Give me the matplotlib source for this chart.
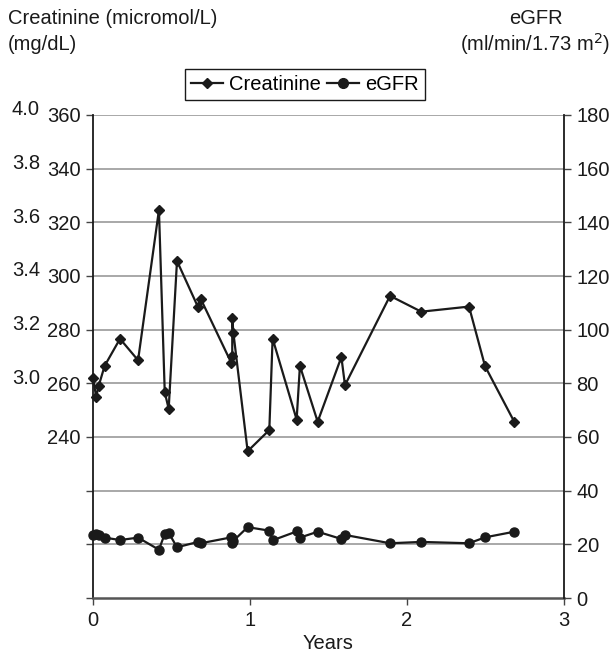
import matplotlib
matplotlib.use("Agg")
import matplotlib.pyplot as plt
from matplotlib.lines import Line2D

plt.rcParams['font.family'] = ['Liberation Sans', 'DejaVu Sans']
plt.rcParams['font.size'] = 14.5

# Follow-up time (years) shared by both series
years = [0.000, 0.020, 0.036, 0.074, 0.172, 0.287, 0.420, 0.457, 0.482, 0.535,
         0.669, 0.686, 0.881, 0.887, 0.887, 0.894, 0.985, 1.123, 1.144, 1.297,
         1.318, 1.431, 1.582, 1.605, 1.892, 2.091, 2.395, 2.497, 2.683]

# Serum creatinine (micromol/L)
creatinine = [262, 255, 259, 266.5, 276.6, 268.6, 324.6, 256.7, 250.5, 305.6,
              288.4, 291.5, 267.6, 270.2, 284.5, 278.9, 234.7, 242.6, 276.7, 246.5,
              266.5, 245.7, 269.8, 259.3, 292.6, 286.7, 288.6, 266.4, 245.7]

# eGFR (ml/min/1.73 m2)
egfr = [23.5, 24.0, 23.4, 22.5, 21.6, 22.5, 18.0, 23.9, 24.3, 18.9,
        20.9, 20.4, 22.6, 22.2, 20.6, 21.3, 26.4, 25.1, 21.5, 24.8,
        22.5, 24.7, 22.0, 23.5, 20.4, 20.9, 20.4, 22.6, 24.7]

# Axis ticks
x_ticks = [0, 1, 2, 3]
umol_ticks = [180, 200, 220, 240, 260, 280, 300, 320, 340, 360]
umol_labels = ["", "", "", "240", "260", "280", "300", "320", "340", "360"]
mg_positions = [260, 280, 300, 320, 340, 360]
mg_labels = ["3.0", "3.2", "3.4", "3.6", "3.8", "4.0"]
egfr_ticks = [0, 20, 40, 60, 80, 100, 120, 140, 160, 180]

W, H = 616, 656
fig = plt.figure(figsize=(W / 100, H / 100), dpi=100)
x0, x1, y0, y1 = 93, 564, 115, 598
ax = fig.add_axes([x0 / W, 1 - y1 / H, (x1 - x0) / W, (y1 - y0) / H])
ax2 = ax.twinx()

ax.set_xlim(0, 3)
ax.set_ylim(180, 360)
ax2.set_ylim(0, 180)

grid_c = "#9a9a9a"
ink = "#1a1a1a"
for t in umol_ticks[1:]:
    ax.axhline(t, color=grid_c, lw=1.2, zorder=0)

ax.plot(years, creatinine, color=ink, lw=1.6, marker='D', ms=5.5,
        mfc=ink, mec=ink, zorder=3, clip_on=False)
ax2.plot(years, egfr, color=ink, lw=1.6, marker='o', ms=6.5,
         mfc=ink, mec=ink, zorder=3, clip_on=False)

ax.set_xticks(x_ticks)
ax.set_xticklabels([str(v) for v in x_ticks])
ax.set_yticks(umol_ticks)
ax.set_yticklabels(umol_labels)
ax2.set_yticks(egfr_ticks)
ax2.set_yticklabels([str(v) for v in egfr_ticks])

for a in (ax, ax2):
    a.tick_params(direction='out', length=5, width=1, color="#444444",
                  labelcolor=ink, pad=4)
    a.spines['top'].set_visible(False)
    for s in ('left', 'right', 'bottom'):
        a.spines[s].set_color(ink)
        a.spines[s].set_linewidth(1.3)
ax.tick_params(axis='x', pad=4)
ax.spines['right'].set_visible(False)
ax2.spines['left'].set_visible(False)
ax2.spines['bottom'].set_visible(False)
ax.spines['bottom'].set_color("#555555")
ax.spines['bottom'].set_linewidth(1.8)

# Second scale of creatinine labels (mg/dL)
for pos, lab in zip(mg_positions, mg_labels):
    ax.annotate(lab, xy=(0, pos), xycoords=('axes fraction', 'data'),
                xytext=(-53, 5), textcoords='offset pixels',
                ha='right', va='center', color=ink)

ax.set_xlabel("Years", color=ink, labelpad=3)

fig.text(8 / W, 1 - 18 / H, "Creatinine (micromol/L)", ha='left', va='center', color=ink)
fig.text(8 / W, 1 - 44 / H, "(mg/dL)", ha='left', va='center', color=ink)
fig.text(536 / W, 1 - 18 / H, "eGFR", ha='center', va='center', color=ink)
fig.text(610 / W, 1 - 44 / H, "(ml/min/1.73 m$^2$)", ha='right', va='center', color=ink)

handles = [Line2D([], [], color=ink, lw=1.6, marker='D', ms=5, label="Creatinine"),
           Line2D([], [], color=ink, lw=1.6, marker='o', ms=7, label="eGFR")]
leg = fig.legend(handles=handles, loc='upper left', bbox_to_anchor=(185 / W, 1 - 69 / H),
                 ncol=2, frameon=True, fancybox=False, borderaxespad=0,
                 handlelength=1.6, handletextpad=0.3, columnspacing=0.3,
                 borderpad=0.3, framealpha=1)
leg.get_frame().set_edgecolor(ink)
leg.get_frame().set_linewidth(1.0)

fig.savefig("out.png", dpi=100)
